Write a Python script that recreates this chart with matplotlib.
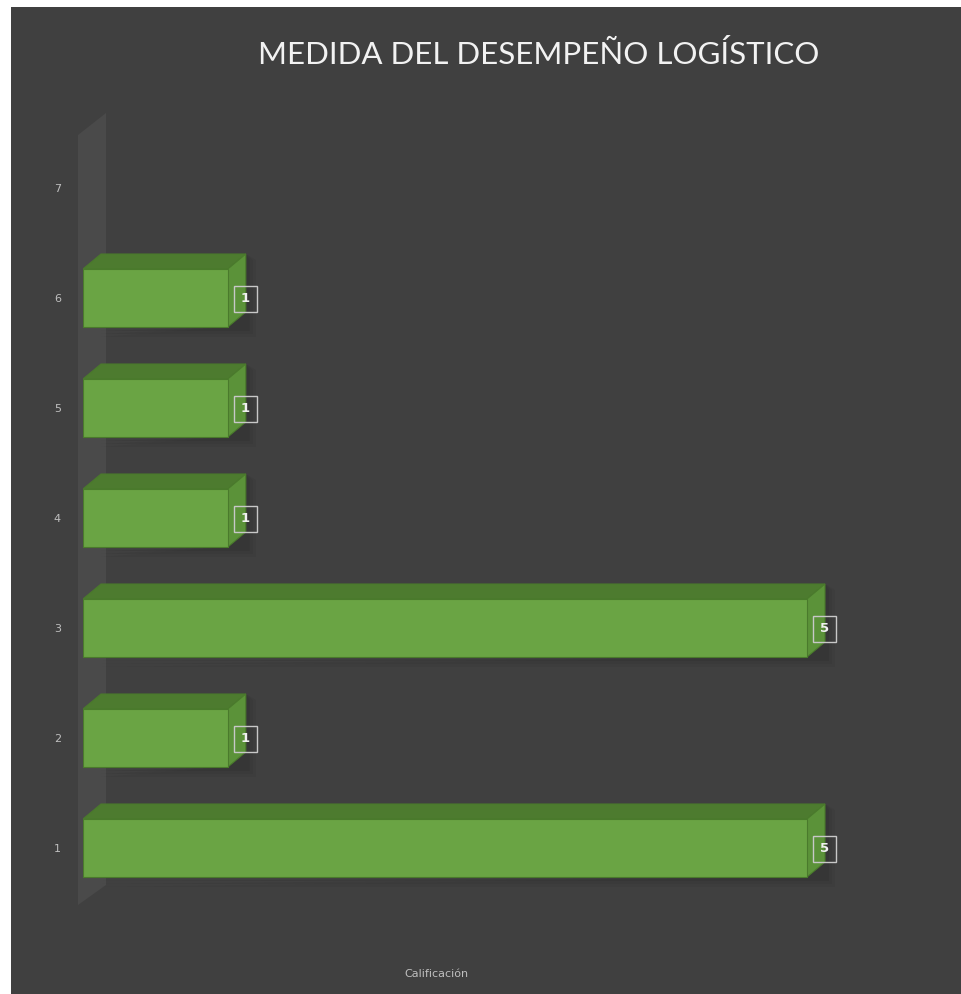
import matplotlib.pyplot as plt
from matplotlib.patches import Polygon, Rectangle

categorias = [1, 2, 3, 4, 5, 6, 7]
valores = [5, 1, 5, 1, 1, 1, 0]
titulo = 'MEDIDA DEL DESEMPEÑO LOGÍSTICO'
etiqueta_x = 'Calificación'

W, H = 962, 994
fig = plt.figure(figsize=(W / 100, H / 100), dpi=100)
fig.patch.set_facecolor('white')
# fondo oscuro del grafico (borde blanco arriba e izquierda)
fig.add_artist(Rectangle((11 / W, 0), 1 - 11 / W, (H - 7) / H,
                         transform=fig.transFigure, facecolor='#404040',
                         edgecolor='none', zorder=0))

# ejes colocados en pixeles
izq, der, arriba, abajo = 83, 900, 108, 905
ax = fig.add_axes([izq / W, (H - abajo) / H, (der - izq) / W, (abajo - arriba) / H])
ax.set_facecolor('none')
px_x = 144.8  # pixeles por unidad en x
px_y = 110.0  # pixeles por categoria
ax.set_xlim(0, (der - izq) / px_x)
ax.set_ylim(1 - (abajo - 848) / px_y, 1 + (848 - arriba) / px_y)

dx = 18 / px_x
dy = 15 / px_y
alto = 58 / px_y

# pared lateral 3D
pared = Polygon([(-5 / px_x, 1 - (905 - 848) / px_y), (23 / px_x, 1 - (885 - 848) / px_y),
                 (23 / px_x, 1 + (848 - 113) / px_y), (-5 / px_x, 1 + (848 - 135) / px_y)],
                closed=True, facecolor='#4a4a4a', edgecolor='none', zorder=1, clip_on=False)
ax.add_patch(pared)

frente = '#6aa444'
tapa = '#4d7b2f'
lado = '#5b9239'
borde = '#4a7a2c'

for c, v in zip(categorias, valores):
    if v == 0:
        continue
    y0 = c - alto / 2
    y1 = c + alto / 2
    # sombra suave
    for k, a in [(10, 0.12), (7, 0.15), (4, 0.2)]:
        ax.add_patch(Polygon([(dx, y0 - k / px_y), (v + dx + k / px_x, y0 - k / px_y),
                              (v + dx + k / px_x, y1 + dy - 6 / px_y), (v + dx, y1 + dy),
                              (v, y0)],
                             closed=True, facecolor='#2a2a2a', edgecolor='none', alpha=a, zorder=2))
    ax.barh(c, v, height=alto, color=frente, edgecolor=borde, linewidth=0.8, zorder=4)
    ax.add_patch(Polygon([(0, y1), (v, y1), (v + dx, y1 + dy), (dx, y1 + dy)],
                         closed=True, facecolor=tapa, edgecolor=borde, linewidth=0.8, zorder=3))
    ax.add_patch(Polygon([(v, y0), (v + dx, y0 + dy), (v + dx, y1 + dy), (v, y1)],
                         closed=True, facecolor=lado, edgecolor=borde, linewidth=0.8, zorder=3))
    ax.annotate(str(v), xy=(v, c), xytext=(13, -1), textcoords='offset pixels',
                ha='left', va='center', fontsize=9.5, fontweight='bold', color='#f0f0f0',
                family='DejaVu Sans', zorder=6,
                bbox=dict(boxstyle='square,pad=0.5', facecolor='none',
                          edgecolor='#c8c8c8', linewidth=1))

ax.set_yticks(categorias)
ax.set_yticklabels([str(c) for c in categorias], color='#bfbfbf', fontsize=8)
ax.tick_params(axis='y', length=0, pad=16)
ax.set_xticks([])
for s in ax.spines.values():
    s.set_visible(False)

fig.text(539 / W, 1 - 55 / H, titulo, ha='center', va='center',
         fontsize=22.5, color='#f2f2f2', family='Lato')
fig.text(436 / W, 1 - 974 / H, etiqueta_x, ha='center', va='center',
         fontsize=8, color='#bfbfbf')

fig.savefig('out.png', dpi=100, facecolor=fig.get_facecolor())
